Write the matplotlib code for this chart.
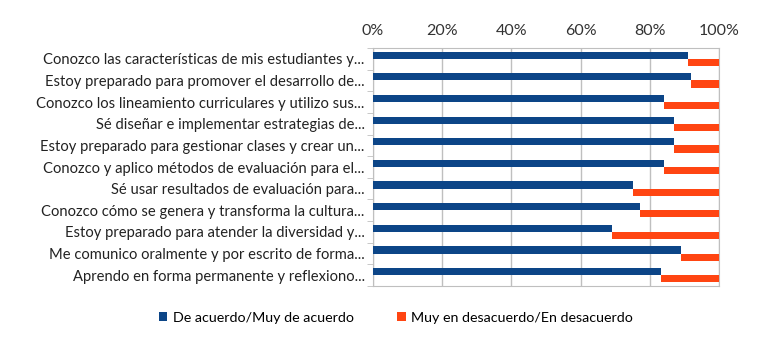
import matplotlib
matplotlib.use("Agg")
import matplotlib.pyplot as plt
import numpy as np

plt.rcParams["font.family"] = ["Lato", "DejaVu Sans"]

# categorías (de arriba hacia abajo)
categorias = [
    "Conozco las características de mis estudiantes y...",
    "Estoy preparado para promover el desarrollo de...",
    "Conozco los lineamiento curriculares y utilizo sus...",
    "Sé diseñar e implementar estrategias de...",
    "Estoy preparado para gestionar clases y crear un...",
    "Conozco y aplico métodos de evaluación para el...",
    "Sé usar resultados de evaluación para...",
    "Conozco cómo se genera y transforma la cultura...",
    "Estoy preparado para atender la diversidad y...",
    "Me comunico oralmente y por escrito de forma...",
    "Aprendo en forma permanente y reflexiono...",
]
de_acuerdo = [91.0, 91.9, 84.0, 87.1, 87.1, 84.0, 75.1, 77.2, 69.2, 89.1, 83.2]
desacuerdo = [100 - v for v in de_acuerdo]

AZUL = "#0C4587"
NARANJA = "#FF4512"

fig = plt.figure(figsize=(7.64, 3.49), dpi=100)
ax = fig.add_axes([373 / 764, 1 - 286 / 349, 346 / 764, 238 / 349])

y = np.arange(len(categorias))
ax.barh(y - 0.165, de_acuerdo, height=0.33, color=AZUL, label="De acuerdo/Muy de acuerdo", zorder=3)
ax.barh(y + 0.165, desacuerdo, left=de_acuerdo, height=0.33, color=NARANJA,
        label="Muy en desacuerdo/En desacuerdo", zorder=3)

ax.set_xlim(0, 100)
ax.set_ylim(len(categorias) - 0.5, -0.5)
ax.xaxis.tick_top()
ax.set_xticks(range(0, 101, 20))
ax.set_xticklabels([f"{v}%" for v in range(0, 101, 20)], fontsize=11.5, color="#333333")
ax.tick_params(axis="x", length=0, pad=7)
ax.grid(axis="x", color="#BFBFBF", linewidth=1, zorder=0)

# etiquetas y marcas entre categorías
ax.set_yticks(y)
ax.set_yticklabels(categorias, fontsize=10.6, color="#222222")
ax.tick_params(axis="y", length=0, pad=6)
ax.set_yticks(np.arange(-0.5, len(categorias), 1), minor=True)
ax.tick_params(axis="y", which="minor", length=4, color="#BFBFBF")

for s in ["top", "bottom", "left", "right"]:
    ax.spines[s].set_color("#BFBFBF")

fig.legend(loc="center", bbox_to_anchor=(396 / 764, 1 - 318 / 349), ncol=2,
           frameon=False, fontsize=10.3, handlelength=0.6, handleheight=0.6,
           handletextpad=0.4, columnspacing=3.0)

plt.savefig("out.png", dpi=100, facecolor="white")
